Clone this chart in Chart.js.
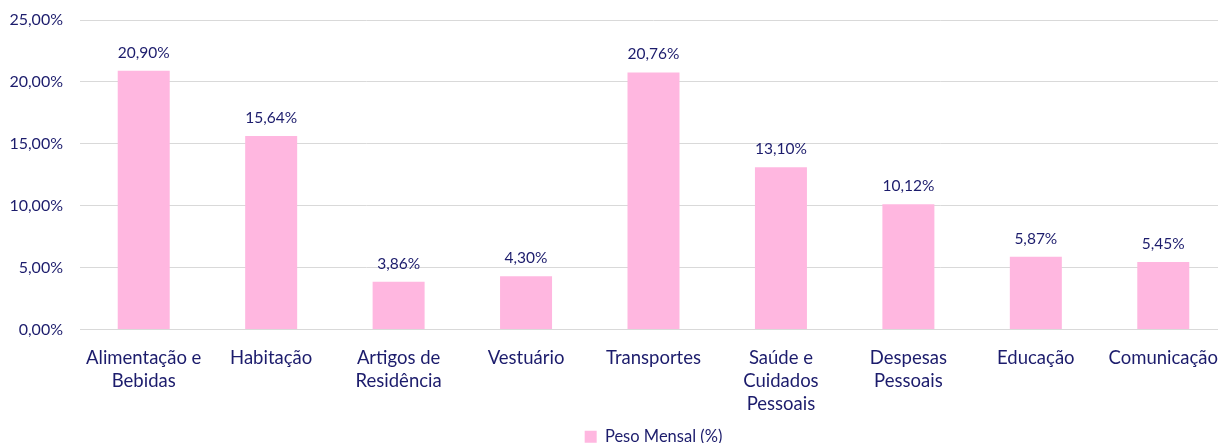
<!DOCTYPE html>
<html>
<head>
<meta charset="utf-8">
<script src="https://cdn.jsdelivr.net/npm/chart.js@4"></script>
<style>
  html, body { margin: 0; padding: 0; background: #fff; overflow: hidden; }
  #wrap { width: 1227px; height: 443px; }
</style>
</head>
<body>
<div id="wrap"><canvas id="chart"></canvas></div>
<script>
// dados do gráfico
const categorias = [
    ['Alimentação e', 'Bebidas'],
    'Habitação',
    ['Artigos de', 'Residência'],
    'Vestuário',
    'Transportes',
    ['Saúde e', 'Cuidados', 'Pessoais'],
    ['Despesas', 'Pessoais'],
    'Educação',
    'Comunicação'
];
const pesoMensal = [20.90, 15.64, 3.86, 4.30, 20.76, 13.10, 10.12, 5.87, 5.45];
const nomeSerie = 'Peso Mensal (%)';
const yTicks = [0, 5, 10, 15, 20, 25];

const corTexto = '#1c1c6c';
const corBarra = '#ffb7e0';
const fonte = 'Lato, "Open Sans", sans-serif';

function formatPct(v) {
    return v.toFixed(2).replace('.', ',') + '%';
}

// rótulos em cima das barras
const rotulos = {
    id: 'rotulos',
    afterDatasetsDraw(chart) {
        const ctx = chart.ctx;
        const meta = chart.getDatasetMeta(0);
        ctx.save();
        ctx.fillStyle = corTexto;
        ctx.font = '15.5px ' + fonte;
        ctx.textAlign = 'center';
        ctx.textBaseline = 'middle';
        meta.data.forEach((bar, i) => {
            ctx.fillText(formatPct(pesoMensal[i]), bar.x, bar.y - 18);
        });
        ctx.restore();
    }
};

const ctx = document.getElementById('chart').getContext('2d');
new Chart(ctx, {
    type: 'bar',
    data: {
        labels: categorias,
        datasets: [{
            label: nomeSerie,
            data: pesoMensal,
            backgroundColor: corBarra,
            categoryPercentage: 1,
            barPercentage: 0.408
        }]
    },
    options: {
        responsive: true,
        maintainAspectRatio: false,
        animation: false,
        layout: { padding: { top: 20, right: 0, left: 0, bottom: -12 } },
        plugins: {
            legend: {
                position: 'bottom',
                fullSize: false,
                labels: {
                    color: corTexto,
                    font: { family: fonte, size: 16.5 },
                    boxWidth: 12,
                    boxHeight: 12,
                    padding: 0
                }
            },
            tooltip: { enabled: false }
        },
        scales: {
            x: {
                grid: { display: false },
                border: { color: '#d9d9d9' },
                ticks: {
                    color: corTexto,
                    font: { family: fonte, size: 18.5, lineHeight: 1.25 },
                    maxRotation: 0,
                    autoSkip: false,
                    padding: 9
                },
                afterFit(axis) {
                    axis.height = 99;
                    axis.paddingLeft = 0;
                    axis.paddingRight = 0;
                }
            },
            y: {
                min: 0,
                max: 25,
                border: { display: false },
                grid: { color: '#d9d9d9', drawTicks: false },
                afterBuildTicks(axis) {
                    axis.ticks = yTicks.map(v => ({ value: v }));
                },
                ticks: {
                    color: corTexto,
                    font: { family: fonte, size: 16 },
                    padding: 17,
                    callback: v => formatPct(v)
                },
                afterFit(axis) {
                    axis.width = 80;
                    axis.paddingTop = 0;
                    axis.paddingBottom = 0;
                }
            }
        }
    },
    plugins: [rotulos]
});
</script>
</body>
</html>
